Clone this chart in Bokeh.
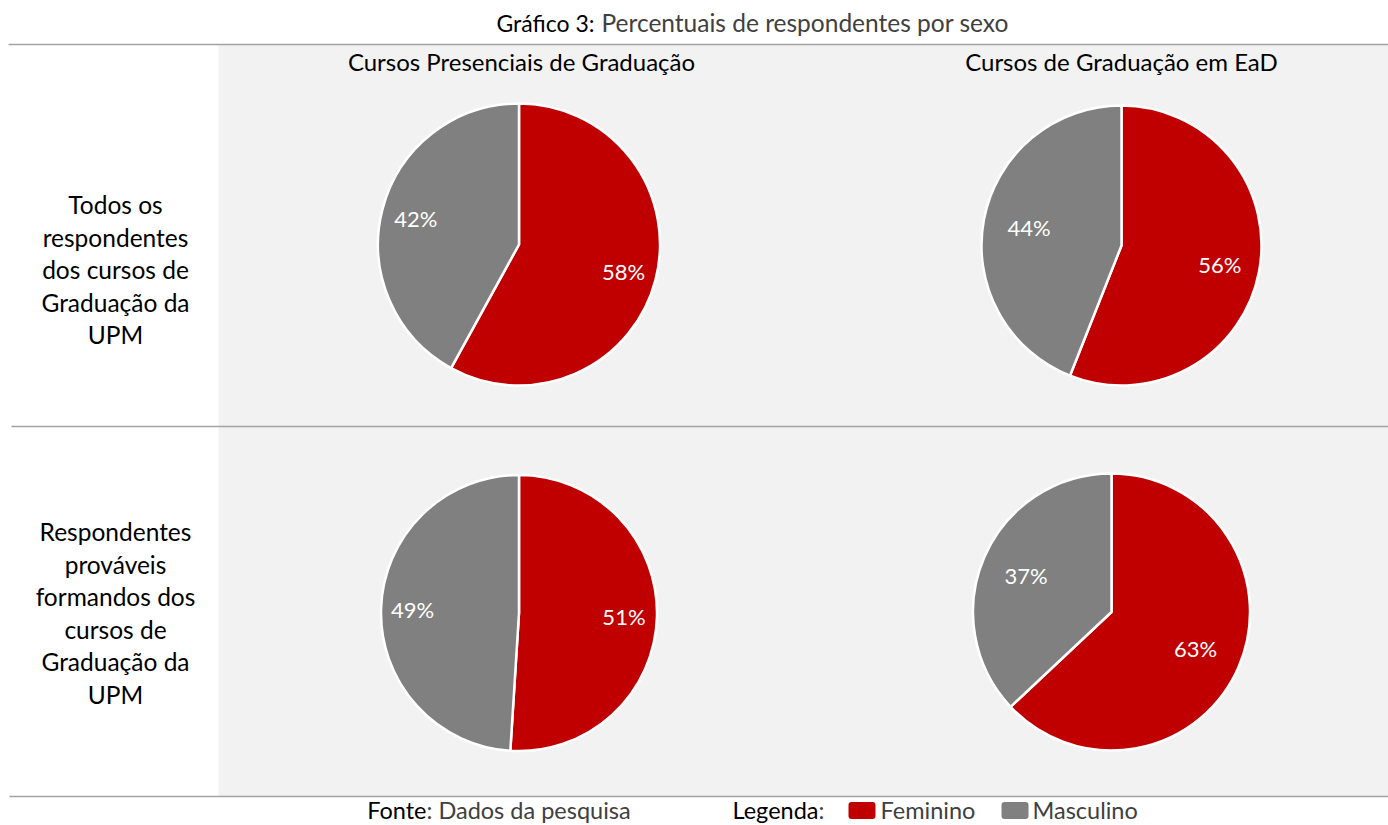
import numpy as np
from bokeh.plotting import figure
from bokeh.models import Range1d
from bokeh.core.properties import value
from bokeh.embed import file_html
from bokeh.resources import INLINE

# ---------------- data ----------------
title_bold = "Gráfico 3:"
title_rest = "Percentuais de respondentes por sexo"
col_titles = ["Cursos Presenciais de Graduação", "Cursos de Graduação em EaD"]
row_titles = ["Todos os\nrespondentes\ndos cursos de\nGraduação da\nUPM",
              "Respondentes\nprováveis\nformandos dos\ncursos de\nGraduação da\nUPM"]
categories = ["Feminino", "Masculino"]
# pie order: (row1,col1), (row1,col2), (row2,col1), (row2,col2)
feminino = [58, 56, 51, 63]
masculino = [42, 44, 49, 37]
source_label = "Fonte"
source_text = ": Dados da pesquisa"
legend_label = "Legenda"
legend_colon = ":"

# ---------------- style / layout ----------------
colors = ["#c00000", "#808080"]
FONT = value("Lato")
W, H = 1388, 825


def Y(v):
    return H - v


pie_cx = [518.5, 1121, 518.5, 1111]
pie_cy = [244, 245, 612.5, 611.5]
pie_r = [141, 140, 138, 138.5]
lab_d = [[108, 106.5], [100, 94], [105, 106.5], [91.5, 93]]
col_x = [521, 1121]
col_y = 61
row_x = 115
row_cy = [269, 612.5]
row_step = 32.5

p = figure(width=W, height=H, x_range=Range1d(0, W), y_range=Range1d(0, H),
           output_backend="svg", toolbar_location=None, x_axis_type=None, y_axis_type=None,
           min_border=0, outline_line_color=None, title=None,
           background_fill_color="white", border_fill_color="white")
p.xgrid.visible = False
p.ygrid.visible = False

# background panel
p.quad(left=[218], right=[W + 2], bottom=[Y(796)], top=[Y(44)],
       fill_color="#f2f2f2", line_color=None)

# rules
p.segment(x0=[8, 11, 9], y0=[Y(44), Y(426), Y(796)], x1=[W + 2] * 3,
          y1=[Y(44), Y(426), Y(796)], line_color="#a3a3a3", line_width=1.5)

# pies
for i in range(4):
    vals = [feminino[i], masculino[i]]
    tot = sum(vals)
    cum = 0.0
    for k, v in enumerate(vals):
        a0 = np.pi / 2 - 2 * np.pi * cum / tot
        a1 = np.pi / 2 - 2 * np.pi * (cum + v) / tot
        p.wedge(x=[pie_cx[i]], y=[Y(pie_cy[i])], radius=pie_r[i], radius_units="screen",
                start_angle=a0, end_angle=a1, direction="clock",
                fill_color=colors[k], line_color="white", line_width=2.5)
        mid = 2 * np.pi * (cum + v / 2) / tot  # clockwise from top
        d = lab_d[i][k]
        p.text(x=[pie_cx[i] + d * np.sin(mid)], y=[Y(pie_cy[i]) + d * np.cos(mid)],
               text=[f"{v}%"], text_font=FONT, text_font_size="22px",
               text_color="white", text_align="center", text_baseline="middle")
        cum += v

# title
p.text(x=[594], y=[Y(22)], text=[title_bold], text_font=FONT, text_font_size="23px",
       text_color="black", text_align="right", text_baseline="middle")
p.text(x=[601], y=[Y(22)], text=[title_rest], text_font=FONT, text_font_size="24.5px",
       text_color="#404040", text_align="left", text_baseline="middle")

# column titles
p.text(x=col_x, y=[Y(col_y)] * 2, text=col_titles, text_font=FONT, text_font_size="24px",
       text_color="black", text_align="center", text_baseline="middle")

# row titles
for r, label in enumerate(row_titles):
    lines = label.split("\n")
    n = len(lines)
    ys = [Y(row_cy[r] + (j - (n - 1) / 2) * row_step) for j in range(n)]
    p.text(x=[row_x] * n, y=ys, text=lines, text_font=FONT, text_font_size="24.5px",
           text_color="black", text_align="center", text_baseline="middle")

# footer
fy = Y(809)
p.text(x=[426], y=[fy], text=[source_label], text_font=FONT, text_font_size="23.5px",
       text_color="black", text_align="right", text_baseline="middle")
p.text(x=[426], y=[fy], text=[source_text], text_font=FONT, text_font_size="23.5px",
       text_color="#404040", text_align="left", text_baseline="middle")
p.text(x=[818], y=[fy], text=[legend_label], text_font=FONT, text_font_size="23.5px",
       text_color="black", text_align="right", text_baseline="middle")
p.text(x=[818], y=[fy], text=[legend_colon], text_font=FONT, text_font_size="23.5px",
       text_color="#404040", text_align="left", text_baseline="middle")
p.rect(x=[861.5, 1014.5], y=[Y(810)] * 2, width=21, height=11, width_units="screen",
       height_units="screen", fill_color=colors, line_color=colors, line_width=6,
       line_join="round")
p.text(x=[880, 1032], y=[fy] * 2, text=categories, text_font=FONT, text_font_size="23.5px",
       text_color="#404040", text_align="left", text_baseline="middle")

open("out.html", "w").write(file_html(p, INLINE))
